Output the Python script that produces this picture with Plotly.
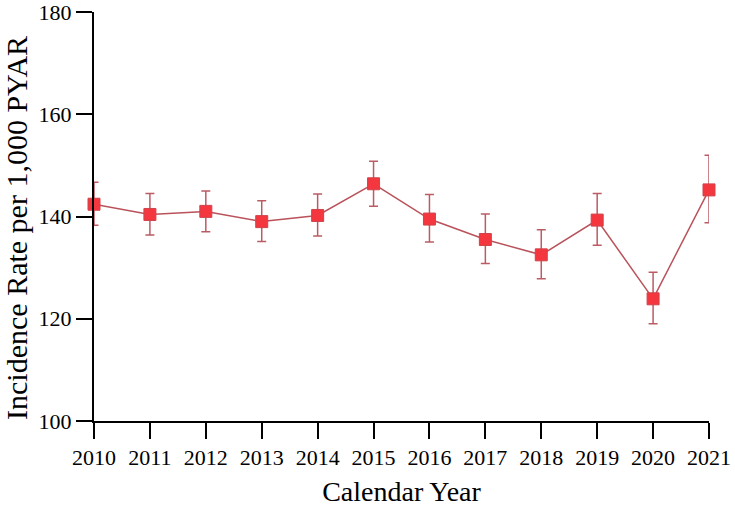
import plotly.graph_objects as go

years = [2010, 2011, 2012, 2013, 2014, 2015, 2016, 2017, 2018, 2019, 2020, 2021]
rate = [142.4, 140.4, 141.0, 139.0, 140.2, 146.4, 139.5, 135.5, 132.5, 139.3, 123.9, 145.2]
upper = [146.7, 144.5, 145.0, 143.1, 144.4, 150.8, 144.3, 140.5, 137.4, 144.5, 129.1, 152.0]
lower = [138.3, 136.4, 137.0, 135.1, 136.2, 142.0, 135.0, 130.8, 127.8, 134.4, 119.0, 138.8]
y_ticks = [100, 120, 140, 160, 180]

err_plus = [u - r for u, r in zip(upper, rate)]
err_minus = [r - l for r, l in zip(rate, lower)]

font_family = "Liberation Serif, Times New Roman, serif"

fig = go.Figure()
fig.add_trace(go.Scatter(
    x=years, y=rate,
    mode="lines+markers",
    line=dict(color="#B9525A", width=1.5),
    marker=dict(symbol="square", size=12, color="#F4363F",
                line=dict(color="#D0434B", width=1)),
    error_y=dict(type="data", symmetric=False, array=err_plus, arrayminus=err_minus,
                 color="#BB5C64", thickness=1.5, width=4.5),
    cliponaxis=False,
    showlegend=False,
))

fig.update_layout(
    width=735, height=507,
    margin=dict(l=94, r=26, t=12, b=86),
    paper_bgcolor="white", plot_bgcolor="white",
    font=dict(family=font_family, color="black", size=22),
    xaxis=dict(
        range=[2010, 2021],
        tickmode="array", tickvals=years, ticktext=[str(y) for y in years],
        ticks="outside", ticklen=16, tickwidth=2, tickcolor="black",
        showline=True, linecolor="black", linewidth=2,
        showgrid=False, zeroline=False,
        tickfont=dict(size=22, family=font_family),
        ticklabeloverflow="allow",
        title=dict(text="Calendar Year", font=dict(size=28, family=font_family), standoff=12),
        automargin=False,
    ),
    yaxis=dict(
        range=[100, 180],
        tickmode="array", tickvals=y_ticks, ticktext=[str(v) for v in y_ticks],
        ticks="outside", ticklen=16, tickwidth=2, tickcolor="black",
        showline=True, linecolor="black", linewidth=2,
        showgrid=False, zeroline=False,
        tickfont=dict(size=22, family=font_family),
        ticklabeloverflow="allow",
        automargin=False,
    ),
    annotations=[dict(
        text="Incidence Rate per 1,000 PYAR",
        xref="paper", yref="paper", x=-0.1252, y=0.472,
        xanchor="center", yanchor="middle", textangle=-90,
        showarrow=False, font=dict(size=30, family=font_family, color="black"),
    )],
)

fig.write_html("out.html",
               config={"displayModeBar": False},
               post_script="document.body.style.margin='0';document.body.style.overflow='hidden';")
